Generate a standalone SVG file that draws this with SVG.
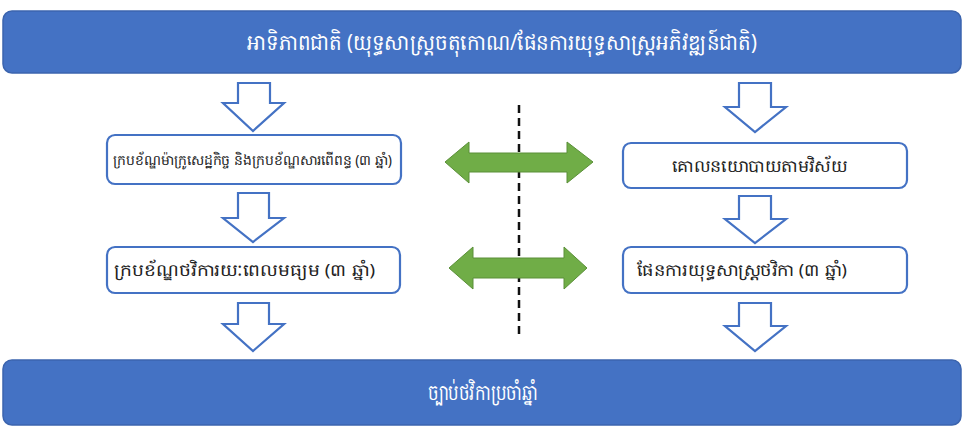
<svg xmlns="http://www.w3.org/2000/svg" width="965" height="427" viewBox="0 0 965 427">
<style>
.banner{fill:#4472C4;stroke:#3B64AE;stroke-width:1.5}
.box{fill:#FFFFFF;stroke:#4472C4;stroke-width:2.2}
.down{fill:#FFFFFF;stroke:#4472C4;stroke-width:2.2;stroke-linejoin:miter}
.dbl{fill:#70AD47;stroke:#5A8F38;stroke-width:1}
.wt{font-family:"Noto Sans","DejaVu Sans",sans-serif;fill:#FFFFFF;font-size:22px}
.bt{font-family:"Noto Sans","DejaVu Sans",sans-serif;fill:#222222}
</style>
<rect width="965" height="427" fill="#FFFFFF"/>
<g id="top-banner">
<rect class="banner" x="3" y="11" width="958" height="62" rx="9"/>
<text class="wt" x="247" y="50" textLength="510" lengthAdjust="spacingAndGlyphs">អាទិភាពជាតិ (យុទ្ធសាស្រ្តចតុកោណ/ផែនការយុទ្ធសាស្រ្តអភិវឌ្ឍន៍ជាតិ)</text>
</g>
<g id="box-l1">
<rect class="box" x="107" y="135" width="294" height="49" rx="8"/>
<text class="bt" x="113" y="165" font-size="14" textLength="279" lengthAdjust="spacingAndGlyphs">ក្របខ័ណ្ឌម៉ាក្រូសេដ្ឋកិច្ច និងក្របខ័ណ្ឌសារពើពន្ធ (៣ ឆ្នាំ)</text>
</g>
<g id="box-l2">
<rect class="box" x="107" y="247" width="293" height="46" rx="8"/>
<text class="bt" x="114" y="276" font-size="17" textLength="261" lengthAdjust="spacingAndGlyphs">ក្របខ័ណ្ឌថវិការយៈពេលមធ្យម (៣ ឆ្នាំ)</text>
</g>
<g id="box-r1">
<rect class="box" x="623" y="143" width="284" height="45" rx="8"/>
<text class="bt" x="672" y="172" font-size="17" textLength="175" lengthAdjust="spacingAndGlyphs">គោលនយោបាយតាមវិស័យ</text>
</g>
<g id="box-r2">
<rect class="box" x="623" y="247" width="284" height="46" rx="8"/>
<text class="bt" x="637" y="276" font-size="17" textLength="210" lengthAdjust="spacingAndGlyphs">ផែនការយុទ្ធសាស្រ្តថវិកា (៣ ឆ្នាំ)</text>
</g>
<g id="bottom-banner">
<rect class="banner" x="3" y="360" width="958" height="65" rx="9"/>
<text class="wt" x="428" y="400" textLength="110" lengthAdjust="spacingAndGlyphs">ច្បាប់ថវិកាប្រចាំឆ្នាំ</text>
</g>
<g id="connectors">
<polygon class="down" points="238,83 270,83 270,103 284,103 253,131 223,103 238,103"/>
<polygon class="down" points="238,193 269,193 269,218 284,218 253,242 223,218 238,218"/>
<polygon class="down" points="238,303 269,303 269,324 284,324 253,351 223,324 238,324"/>
<polygon class="down" points="739,83 771,83 771,107 786,107 755,132 725,107 739,107"/>
<polygon class="down" points="739,196 771,196 771,219 786,219 755,243 725,219 739,219"/>
<polygon class="down" points="739,303 771,303 771,326 786,326 755,351 725,326 739,326"/>
<line x1="519" y1="105" x2="519" y2="338" stroke="#111111" stroke-width="2.5" stroke-dasharray="8,5"/>
<polygon class="dbl" points="445,162 469,142 469,153 567,153 567,142 593,162 567,183 567,172 469,172 469,183"/>
<polygon class="dbl" points="449,268 473,247 473,258 564,258 564,247 587,268 564,289 564,278 473,278 473,289"/>
</g>
</svg>
